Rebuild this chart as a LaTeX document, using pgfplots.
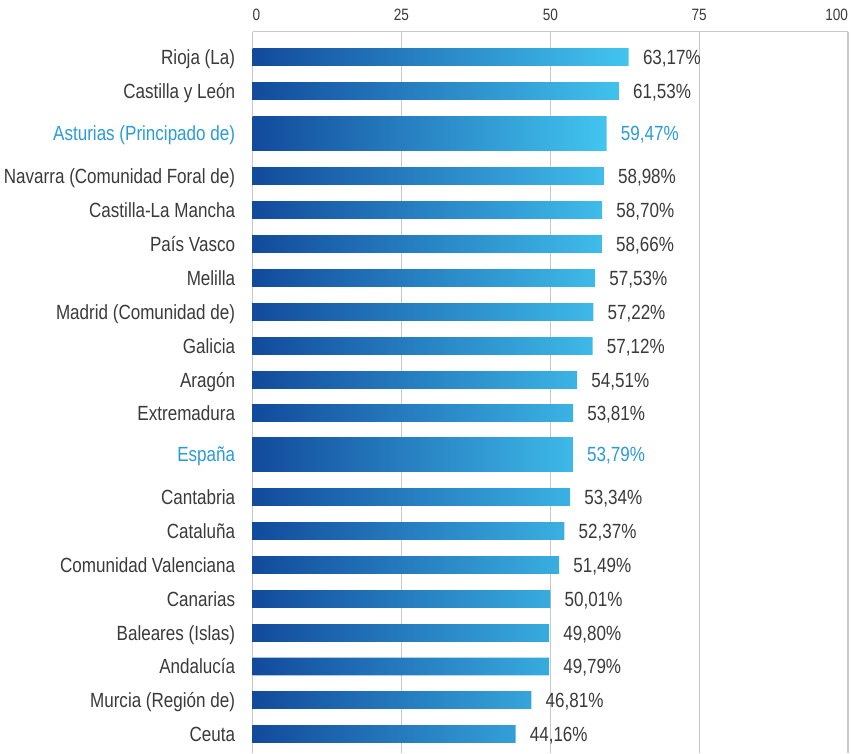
\documentclass[border=0pt]{standalone}
\usepackage{pgfplots}
\pgfplotsset{compat=1.18}
\usepackage{pgfplotstable}
\usepackage{fontspec}
\setmainfont{Liberation Sans}[FakeStretch=0.83]
\definecolor{txt}{HTML}{3A3A3A}
\definecolor{hl}{HTML}{2A9BD7}
\definecolor{gA}{HTML}{124A9C}
\definecolor{gB}{HTML}{1976BC}
\definecolor{gC}{HTML}{42C5F0}
\definecolor{grd}{HTML}{C8C8C8}

\pgfplotstableread{
x y
63.17 -57
61.53 -91
58.98 -176
58.70 -210
58.66 -244
57.53 -278
57.22 -312
57.12 -346
54.51 -380
53.81 -413
53.34 -497
52.37 -531
51.49 -565
50.01 -599
49.80 -633
49.79 -666.5
46.81 -700
44.16 -734
}\normaldata

\pgfplotstableread{
x y
59.47 -133.5
53.79 -454.5
}\hldata

\newcommand\lblfont{\fontsize{15.4}{18}\selectfont}
\newcommand\tkfont{\fontsize{12.3}{14}\selectfont}

\begin{document}
\begin{tikzpicture}
\begin{axis}[
  name=ax,
  scale only axis,
  width=446.5pt, height=541pt,
  xmin=0, xmax=100,
  ymin=-753, ymax=-31.7,
  clip=false,
  axis line style={draw=none},
  major tick length=0pt,
  xtick={0,25,50,75,100},
  xticklabels={\makebox[0pt][l]{0},25,50,75,\makebox[0pt][r]{100}},
  xticklabel pos=upper,
  xmajorgrids,
  grid style={grd, line width=0.9pt},
  /pgf/number format/assume math mode=true,
  xticklabel style={font=\tkfont, text=txt, inner sep=0pt, anchor=south, yshift=8.25pt},
  ytick={-57,-91,-133.5,-176,-210,-244,-278,-312,-346,-380,-413,-454.5,-497,-531,-565,-599,-633,-666.5,-700,-734},
  yticklabels={Rioja (La),Castilla y León,\textcolor{hl}{Asturias (Principado de)},Navarra (Comunidad Foral de),Castilla-La Mancha,País Vasco,Melilla,Madrid (Comunidad de),Galicia,Aragón,Extremadura,\textcolor{hl}{España},Cantabria,Cataluña,Comunidad Valenciana,Canarias,Baleares (Islas),Andalucía,Murcia (Región de),Ceuta},
  yticklabel style={font=\lblfont, text=txt, anchor=base east, inner sep=0pt, xshift=-13pt, yshift=-5.5pt},
]
\draw[grd, line width=0.9pt] (rel axis cs:0,1) -- (rel axis cs:1,1);

\addplot[xbar, bar shift=0pt, bar width=17.7, draw=none,
  left color=gA, middle color=gB, right color=gC] table[x=x,y=y]{\normaldata};
\addplot[xbar, bar shift=0pt, bar width=34.7, draw=none,
  left color=gA, middle color=gB, right color=gC] table[x=x,y=y]{\hldata};

\addplot[draw=none, mark=none, point meta=x,
  nodes near coords={\pgfmathprintnumber[fixed,fixed zerofill,precision=2,use comma]{\pgfplotspointmeta}\%},
  every node near coord/.append style={anchor=base west, inner sep=0pt, xshift=10.5pt, yshift=-5.5pt, text=txt, font=\lblfont}]
  table[x=x,y=y]{\normaldata};
\addplot[draw=none, mark=none, point meta=x,
  nodes near coords={\pgfmathprintnumber[fixed,fixed zerofill,precision=2,use comma]{\pgfplotspointmeta}\%},
  every node near coord/.append style={anchor=base west, inner sep=0pt, xshift=10.5pt, yshift=-5.5pt, text=hl, font=\lblfont}]
  table[x=x,y=y]{\hldata};
\end{axis}
\pgfresetboundingbox
\useasboundingbox ([xshift=-189.5pt]ax.south west) rectangle ([xshift=3pt,yshift=23.8pt]ax.north east);
\end{tikzpicture}
\end{document}
